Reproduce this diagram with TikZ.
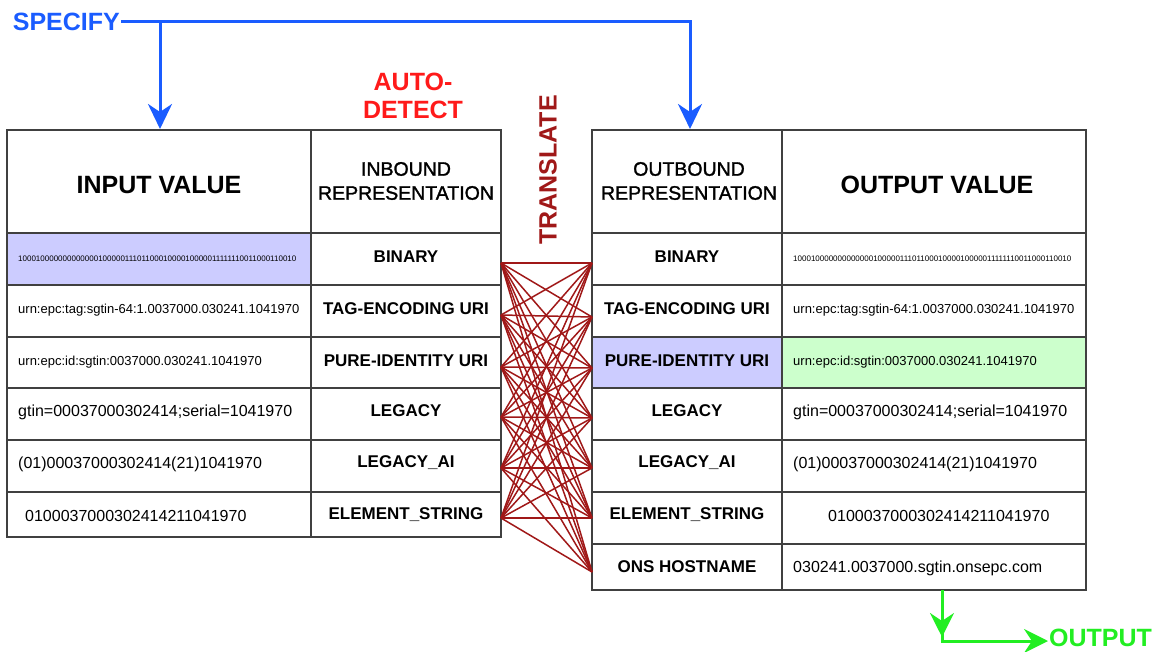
\documentclass[tikz,border=0pt]{standalone}
\usepackage{fontspec}
\setmainfont{Liberation Sans}
\newfontfamily\medfont[FakeBold=1.5]{Liberation Sans}
\usetikzlibrary{arrows.meta}
\definecolor{lav}{HTML}{CCCCFF}
\definecolor{mint}{HTML}{CCFFCC}
\definecolor{specblue}{HTML}{1A5CFF}
\definecolor{detred}{HTML}{FF1A1A}
\definecolor{transred}{HTML}{A01818}
\definecolor{outgreen}{HTML}{22EE22}
\begin{document}
\begin{tikzpicture}[x=1pt,y=-1pt,
  grid/.style={draw=black!75, line width=1.6pt},
  bigtitle/.style={font=\bfseries\fontsize{25}{30}\selectfont, inner sep=0pt},
  reptitle/.style={font=\medfont\fontsize{19.5}{24}\selectfont, align=center, inner sep=0pt},
  rowlbl/.style={font=\bfseries\fontsize{17}{20}\selectfont, inner sep=0pt},
  valsmall/.style={font=\fontsize{13}{16}\selectfont, inner sep=0pt, anchor=west},
  valbig/.style={font=\fontsize{16}{19}\selectfont, inner sep=0pt, anchor=west},
  valbin/.style={font=\fontsize{8}{10}\selectfont, inner sep=0pt, anchor=west},
  callout/.style={font=\bfseries\fontsize{25}{28}\selectfont, inner sep=1pt},
  xline/.style={draw=transred, line width=1.5pt},
  bluearrow/.style={draw=specblue, line width=3pt, -{Stealth[length=25pt,width=24pt,inset=8pt]}},
  greenline/.style={draw=outgreen, line width=3pt},
  greentip/.style={-{Stealth[length=24pt,width=24pt,inset=8pt]}}
]
\useasboundingbox (0,0) rectangle (1158,652);

% highlighted cells
\fill[lav] (7,233) rectangle (311,285);
\fill[lav] (592,337) rectangle (782,388);
\fill[mint] (782,337) rectangle (1086,388);

% inbound table
\draw[grid] (7,130) rectangle (501,537);
\draw[grid] (311,130) -- (311,537);
\foreach \y in {233,285,337,388,440,492} \draw[grid] (7,\y) -- (501,\y);

% outbound table
\draw[grid] (592,130) rectangle (1086,590);
\draw[grid] (782,130) -- (782,590);
\foreach \y in {233,285,337,388,440,492,544} \draw[grid] (592,\y) -- (1086,\y);

% headers
\node[bigtitle] (inval) at (159,185) {INPUT VALUE};
\node[reptitle] (inrep) at (406,181) {INBOUND\\REPRESENTATION};
\node[reptitle] (outrep) at (689,181) {OUTBOUND\\REPRESENTATION};
\node[bigtitle] (outval) at (937,185) {OUTPUT VALUE};

% inbound rows
\node[rowlbl] (ib1) at (406,257) {BINARY};
\node[rowlbl] (ib2) at (406,309) {TAG-ENCODING URI};
\node[rowlbl] (ib3) at (406,361) {PURE-IDENTITY URI};
\node[rowlbl] (ib4) at (406,411) {LEGACY};
\node[rowlbl] (ib5) at (406,463) {LEGACY\_AI};
\node[rowlbl] (ib6) at (406,515) {ELEMENT\_STRING};

\node[valbin] (iv1) at (18,259) {1000100000000000001000001110110001000010000011111110011000110010};
\node[valsmall] (iv2) at (18,310) {urn:epc:tag:sgtin-64:1.0037000.030241.1041970};
\node[valsmall] (iv3) at (18,362) {urn:epc:id:sgtin:0037000.030241.1041970};
\node[valbig] (iv4) at (18,412) {gtin=00037000302414;serial=1041970};
\node[valbig] (iv5) at (18,464) {(01)00037000302414(21)1041970};
\node[valbig] (iv6) at (25,516) {0100037000302414211041970};

% outbound rows
\node[rowlbl] (ob1) at (687,257) {BINARY};
\node[rowlbl] (ob2) at (687,309) {TAG-ENCODING URI};
\node[rowlbl] (ob3) at (687,361) {PURE-IDENTITY URI};
\node[rowlbl] (ob4) at (687,411) {LEGACY};
\node[rowlbl] (ob5) at (687,463) {LEGACY\_AI};
\node[rowlbl] (ob6) at (687,515) {ELEMENT\_STRING};
\node[rowlbl] (ob7) at (687,567) {ONS HOSTNAME};

\node[valbin] (ov1) at (793,259) {1000100000000000001000001110110001000010000011111110011000110010};
\node[valsmall] (ov2) at (793,310) {urn:epc:tag:sgtin-64:1.0037000.030241.1041970};
\node[valsmall] (ov3) at (793,362) {urn:epc:id:sgtin:0037000.030241.1041970};
\node[valbig] (ov4) at (793,412) {gtin=00037000302414;serial=1041970};
\node[valbig] (ov5) at (793,464) {(01)00037000302414(21)1041970};
\node[valbig] (ov6) at (828,516) {0100037000302414211041970};
\node[valbig] (ov7) at (793,568) {030241.0037000.sgtin.onsepc.com};

% translation links: every inbound form to every outbound form
\foreach \i/\y in {1/263,2/315,3/367,4/417,5/468,6/518} \coordinate (L\i) at (501,\y);
\foreach \j/\y in {1/263,2/317,3/368,4/418,5/468,6/518,7/572} \coordinate (R\j) at (592,\y);
\foreach \i in {1,...,6} \foreach \j in {1,...,7} \draw[xline] (L\i) -- (R\j);

% labels
\node[callout, text=specblue, anchor=east] (specify) at (121,22) {SPECIFY};
\node[callout, text=detred, align=center] (detect) at (413,96) {AUTO-\\DETECT};
\node[callout, text=transred, rotate=90] (translate) at (548,170) {TRANSLATE};
\node[callout, text=outgreen, anchor=west] (output) at (1048,638) {OUTPUT};

% specify arrows
\coordinate (sj) at (160,22);
\coordinate (sr) at (690,22);
\coordinate (intop) at (160,129);
\coordinate (outtop) at (690,129);
\draw[bluearrow] (specify.east) -- (sr) -- (outtop);
\draw[bluearrow] (sj) -- (intop);

% output arrow
\coordinate (og1) at (942,590);
\coordinate (ogm) at (942,637);
\coordinate (og2) at (942,641);
\draw[greenline, greentip] (og1) -- (og2) -- (output.west |- og2);
\draw[greenline, greentip] (og1) -- (ogm);
\end{tikzpicture}
\end{document}
